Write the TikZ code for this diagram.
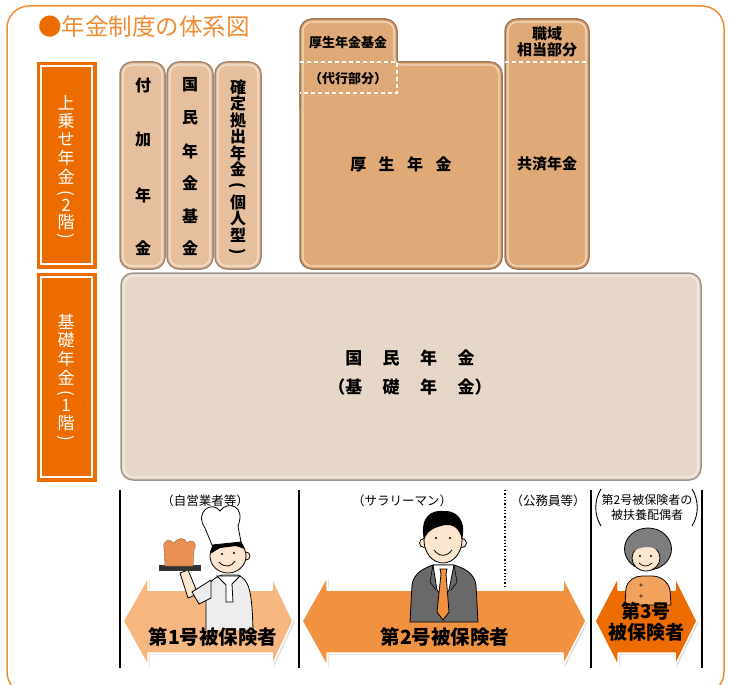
\documentclass[tikz,border=0pt]{standalone}
\usepackage{fontspec}
\setmainfont{Noto Sans CJK JP}
\usetikzlibrary{shadows}

\definecolor{frameorange}{RGB}{240,140,50}
\definecolor{deeporange}{RGB}{236,108,0}
\definecolor{midorange}{RGB}{240,146,64}
\definecolor{paleorange}{RGB}{246,184,128}
\definecolor{pillartan}{RGB}{230,192,158}
\definecolor{kouseitan}{RGB}{224,170,120}
\definecolor{basebeige}{RGB}{230,215,200}
\definecolor{skin}{RGB}{253,230,208}
\definecolor{suitgray}{RGB}{105,105,105}
\definecolor{hairgray}{RGB}{125,125,125}
\definecolor{breadbrown}{RGB}{233,145,85}

\tikzset{
  slab/.style={fill=#1, draw=#1!70!black, line width=1.5pt, rounded corners=12pt},
  glint/.style={draw=white, draw opacity=0.55, line width=1.2pt, rounded corners=9pt},
  tier/.style={fill=deeporange, draw=deeporange},
  bigarrow/.style={fill=#1, draw=white, line width=1.5pt, line join=round,
    drop shadow={opacity=0.3, shadow xshift=1.5pt, shadow yshift=-1.5pt}},
  pillartxt/.style={font=\bfseries\fontsize{16}{16}\selectfont, inner sep=0pt},
  tiertxt/.style={text=white, font=\fontsize{17}{17}\selectfont, inner sep=0pt},
  slabtxt/.style={font=\bfseries\fontsize{15}{16}\selectfont, inner sep=0pt},
  tag/.style={font=\fontsize{12.5}{13}\selectfont, inner sep=0pt},
  holder/.style={font=\bfseries\fontsize{19.5}{22}\selectfont, inner sep=0pt},
  outline/.style={draw=black, line width=0.8pt}
}

\begin{document}
\begin{tikzpicture}[x=1pt,y=-1pt]
\useasboundingbox (0,0) rectangle (729,685);
\clip (0,0) rectangle (729,685);

\draw[frameorange, line width=1.5pt, rounded corners=22pt] (7,6) rectangle (724,694);
\node[anchor=west, inner sep=0pt, text=frameorange, font=\fontsize{23.5}{25}\selectfont] (title) at (38,27) {\textcolor{deeporange}{●}年金制度の体系図};

% floor labels
\draw[tier] (37,62) rectangle (96,268);
\draw[white, line width=1.3pt] (41,66) rectangle (92,264);
\draw[tier] (37,273) rectangle (96,481);
\draw[white, line width=1.3pt] (41,277) rectangle (92,477);
\foreach \c/\y in {上/103,乗/121,せ/139,年/158,金/177,2/205,階/222}
  \node[tiertxt] at (66,\y) {\c};
\foreach \c/\y in {基/322,礎/340,年/359,金/378,1/405,階/423}
  \node[tiertxt] at (66,\y) {\c};
\node[tiertxt, rotate=-90] at (66,193) {(};
\node[tiertxt, rotate=-90] at (66,236) {)};
\node[tiertxt, rotate=-90] at (66,393) {(};
\node[tiertxt, rotate=-90] at (66,438) {)};

% second floor
\foreach \xa/\xb in {120/165,167/213,215/261}{
  \draw[slab=pillartan] (\xa,62) rectangle (\xb,269);
  \draw[glint] (\xa+3,65) rectangle (\xb-3,266);
}
\foreach \c/\y in {付/85,加/140,年/195,金/248}
  \node[pillartxt] at (143,\y) {\c};
\foreach \c/\y in {国/85,民/118,年/151,金/183,基/216,金/248}
  \node[pillartxt] at (190,\y) {\c};
\foreach \c [count=\i from 0] in {確,定,拠,出,年,金}
  \node[pillartxt] at (238,87+16.5*\i) {\c};
\foreach \c [count=\i from 7] in {個,人,型}
  \node[pillartxt] at (238,87+16.5*\i) {\c};
\node[pillartxt, rotate=-90] at (238,186) {(};
\node[pillartxt, rotate=-90] at (238,252) {)};

\draw[slab=kouseitan] (300,62) rectangle (502,269);
\fill[kouseitan, rounded corners=12pt] (300,19) rectangle (397,100);
\draw[kouseitan!70!black, line width=1.5pt, rounded corners=12pt] (300,110) -- (300,19) -- (397,19) -- (397,62);
\draw[glint] (303,266) -- (303,22) -- (394,22) -- (394,65) -- (499,65) -- (499,266) -- cycle;
\draw[white, line width=1.5pt, dash pattern=on 4pt off 3pt] (300,62) -- (397,62) -- (397,93) -- (300,93);
\node[slabtxt, font=\bfseries\fontsize{13}{14}\selectfont] (kikin) at (348,43) {厚生年金基金};
\node[slabtxt, font=\bfseries\fontsize{13}{14}\selectfont] (daikou) at (348,79) {（代行部分）};
\node[slabtxt, font=\bfseries\fontsize{16}{16}\selectfont] (kousei) at (401,164) {厚\hspace{12.5pt}生\hspace{12.5pt}年\hspace{12.5pt}金};

\draw[slab=kouseitan] (505,19) rectangle (589,269);
\draw[glint] (508,22) rectangle (586,266);
\draw[white, line width=1.5pt, dash pattern=on 4pt off 3pt] (505,62) -- (589,62);
\node[slabtxt, align=center, font=\bfseries\fontsize{15}{16.5}\selectfont] (shokuiki) at (547,42) {職域\\相当部分};
\node[slabtxt] (kyousai) at (547,164) {共済年金};

% first floor
\draw[slab=basebeige] (121,273) rectangle (701,480);
\draw[glint] (124,276) rectangle (698,477);
\node[slabtxt, font=\bfseries\fontsize{17}{17}\selectfont] (kokumin) at (410,358) {国\hspace{20.5pt}民\hspace{20.5pt}年\hspace{20.5pt}金};
\node[slabtxt, font=\bfseries\fontsize{17}{17}\selectfont] (kiso) at (410,387) {（基\hspace{20.5pt}礎\hspace{20.5pt}年\hspace{20.5pt}金）};

% insured groups
\foreach \x in {120,299,591,702}
  \draw[line width=1.3pt] (\x,490) -- (\x,668);
\draw[line width=1.3pt, dotted] (505,490) -- (505,587);
\node[tag] (jiei) at (205,501) {（自営業者等）};
\node[tag] (salary) at (402,501) {（サラリーマン）};
\node[tag] (koumu) at (548,501) {（公務員等）};
\node[tag, align=center, font=\fontsize{12}{15}\selectfont] (fuyou) at (647,507) {第2号被保険者の\\被扶養配偶者};
\draw[line width=0.9pt] (601,489) .. controls (594,500) and (594,515) .. (601,526);
\draw[line width=0.9pt] (692,489) .. controls (699,500) and (699,515) .. (692,526);

\draw[bigarrow=paleorange] (123,621) -- (148,577) -- (148,590) -- (272,590) -- (272,577) -- (293,621) -- (272,666) -- (272,653) -- (148,653) -- (148,666) -- cycle;
\draw[bigarrow=midorange] (302,621) -- (327,577) -- (327,590) -- (563,590) -- (563,577) -- (586,621) -- (563,666) -- (563,653) -- (327,653) -- (327,666) -- cycle;
\draw[bigarrow=deeporange] (595,621) -- (618,577) -- (618,590) -- (675,590) -- (675,577) -- (697,621) -- (675,666) -- (675,653) -- (618,653) -- (618,666) -- cycle;

% baker
\draw[outline, fill=white!93!black] (206,630) -- (206,598) .. controls (206,585) and (212,578) .. (222,575) -- (238,575) .. controls (249,580) and (252,590) .. (253,630);
\draw[outline, fill=skin] (188,598) -- (180,573) -- (188,570) -- (198,594) -- cycle;
\draw[outline, fill=white!93!black] (211,580) -- (192,592) -- (199,604) -- (211,598) -- cycle;
\fill[gray!40!black] (159,565) rectangle (201,571);
\draw[fill=breadbrown, draw=breadbrown!70!black] (165,566) -- (164,548) .. controls (162,540) and (170,538) .. (174,543) .. controls (178,537) and (185,537) .. (187,543) .. controls (192,538) and (198,543) .. (194,550) -- (193,566) -- cycle;
\draw[outline, fill=skin] (246,556) circle (4);
\draw[outline, fill=skin] (228,556) ellipse (18 and 17);
\fill[black] (210,554) -- (213,542) -- (241,541) -- (245,549) -- (236,546) -- (220,548) -- cycle;
\draw[outline, fill=white] (212,545) -- (205,528) .. controls (194,512) and (212,500) .. (220,511) .. controls (228,500) and (246,506) .. (238,526) -- (241,542) -- cycle;
\fill (222,554) circle (1.2) (234,553) circle (1.2);
\draw[line width=0.8pt] (219,562) .. controls (224,568) and (232,567) .. (235,561);
\draw[outline, fill=white] (217,576) -- (240,576) -- (232,584) -- (233,602) -- (226,602) -- (226,585) -- cycle;

% office worker
\draw[outline, fill=suitgray] (410,622) -- (412,585) .. controls (414,572) and (425,568) .. (433,565) -- (454,565) .. controls (463,568) and (474,572) .. (476,585) -- (478,622) -- cycle;
\draw[outline, fill=white] (433,565) -- (454,565) -- (449,590) -- (443,598) -- (437,590) -- cycle;
\draw[outline, fill=midorange] (440,569) -- (447,569) -- (446,574) -- (449,612) -- (443,620) -- (437,612) -- (441,574) -- cycle;
\draw[line width=0.6pt] (433,565) -- (430,582) -- (436,590) (454,565) -- (457,582) -- (451,590);
\draw[outline, fill=skin] (424,543) circle (4.5) (462,543) circle (4.5);
\draw[outline, fill=skin] (443,540) ellipse (19 and 23);
\fill (424,540) .. controls (419,515) and (433,510) .. (443,511) .. controls (455,510) and (467,518) .. (462,540) .. controls (460,528) and (452,524) .. (445,525) .. controls (438,527) and (428,528) .. (424,540) -- cycle;
\fill (436,538) circle (1.2) (450,538) circle (1.2);
\draw[line width=0.8pt] (434,550) .. controls (439,557) and (447,557) .. (452,550);

% spouse
\draw[outline, fill=midorange!85!white] (625,605) -- (626,588) .. controls (628,580) and (635,576) .. (642,576) -- (652,576) .. controls (660,576) and (668,581) .. (670,590) -- (671,605) -- cycle;
\draw (641,585) circle (1.3) (641,596) circle (1.3);
\draw[outline, fill=hairgray] (648,549) ellipse (23.5 and 21);
\draw[outline, fill=skin] (646,558) ellipse (14 and 13);
\fill[hairgray] (631,553) .. controls (635,538) and (658,538) .. (661,553) .. controls (655,545) and (640,545) .. cycle;
\fill (640,556) circle (1.1) (651,556) circle (1.1);
\draw[line width=0.7pt] (639,563) .. controls (643,567) and (648,567) .. (652,563);

\node[holder] (first) at (213,637) {第1号被保険者};
\node[holder] (second) at (445,637) {第2号被保険者};
\node[holder, align=center, font=\bfseries\fontsize{19}{21}\selectfont] (third) at (646,622) {第3号\\被保険者};
\end{tikzpicture}
\end{document}
